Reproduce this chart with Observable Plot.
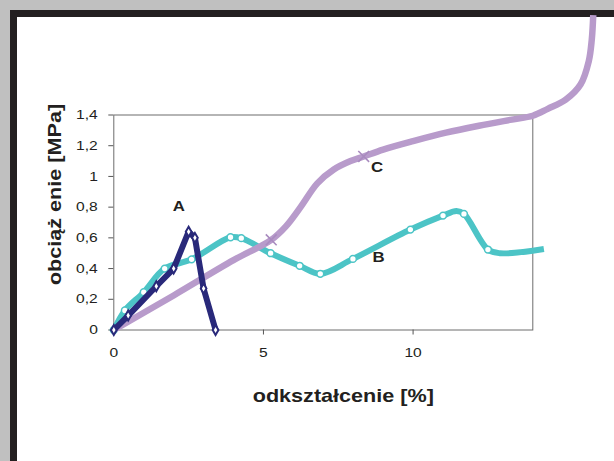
<!DOCTYPE html>
<html>
<head>
<meta charset="utf-8">
<script src="https://cdn.jsdelivr.net/npm/d3@7"></script>
<script src="https://cdn.jsdelivr.net/npm/@observablehq/plot@0.6"></script>
<style>
  html, body { margin: 0; padding: 0; }
  body { width: 614px; height: 461px; background: #c0c0c0; position: relative; overflow: hidden; font-family: "Liberation Sans", Arial, sans-serif; }
  #frame { position: absolute; left: 10px; top: 10px; width: 700px; height: 600px; border-left: 7.5px solid #231f20; border-top: 7.5px solid #231f20; background: #ffffff; }
  #chart { position: absolute; left: 0; top: 0; }
</style>
</head>
<body>
<div id="frame"></div>
<div id="chart"></div>
<script>
// Series A (navy)
const aX = [0, 0.48, 1.42, 2.0, 2.5, 2.71, 3.0, 3.4];
const aY = [0, 0.094, 0.285, 0.40, 0.64, 0.60, 0.27, 0];

// Series B (teal)
const bX = [0, 0.37, 1.0, 1.70, 2.6, 3.9, 4.26, 5.24, 6.21, 6.9, 7.99, 9.91, 11.0, 11.45, 11.7, 12.5, 12.9, 14.37];
const bY = [0, 0.127, 0.246, 0.40, 0.46, 0.604, 0.598, 0.50, 0.418, 0.366, 0.463, 0.654, 0.745, 0.775, 0.756, 0.524, 0.50, 0.528];
const bHasMarker = [1, 1, 1, 1, 1, 1, 1, 1, 1, 1, 1, 1, 1, 0, 1, 1, 0, 0];

// Series C (lavender)
const cX = [0, 2, 4, 5.26, 5.75, 6.24, 6.8, 7.35, 7.91, 8.35, 9.0, 10.0, 11.1, 12.2, 13.3, 14.0, 14.5, 15.1, 15.6, 15.87, 15.97, 16.02];
const cY = [0, 0.225, 0.455, 0.587, 0.675, 0.80, 0.955, 1.045, 1.10, 1.13, 1.175, 1.23, 1.285, 1.33, 1.37, 1.395, 1.44, 1.50, 1.60, 1.75, 1.89, 2.05];
const cHasMarker = [0, 0, 0, 1, 0, 0, 0, 0, 0, 1, 0, 0, 0, 0, 0, 0, 0, 0, 0, 0, 0, 0];

// Series labels
const seriesNames = ["A", "B", "C"];
const seriesLabelX = [2.17, 8.85, 8.8];
const seriesLabelY = [0.804, 0.473, 1.056];

// Axes
const xTicks = [0, 5, 10];
const xTickLabels = ["0", "5", "10"];
const yTicks = [0, 0.2, 0.4, 0.6, 0.8, 1.0, 1.2, 1.4];
const yTickLabels = ["0", "0,2", "0,4", "0,6", "0,8", "1", "1,2", "1,4"];
const xTitle = "odkształcenie [%]";
const yTitle = "obciąż enie [MPa]";

const toRows = (xs, ys, flags) => xs.map((x, i) => ({x, y: ys[i], m: flags ? flags[i] : 1}));
const A = toRows(aX, aY);
const B = toRows(bX, bY, bHasMarker);
const C = toRows(cX, cY, cHasMarker);
const labels = seriesNames.map((n, i) => ({n, x: seriesLabelX[i], y: seriesLabelY[i]}));

const navy = "#29297a", teal = "#4cc4c6", lav = "#b89bcb", ink = "#231f20";

const chart = Plot.plot({
  width: 614,
  height: 461,
  marginLeft: 113.3,
  marginRight: 81.7,
  marginTop: 114.5,
  marginBottom: 131.5,
  style: {background: "transparent", fontFamily: "'Liberation Sans', Arial, sans-serif", color: ink, overflow: "visible"},
  x: {domain: [0, 14]},
  y: {domain: [0, 1.4]},
  marks: [
    Plot.frame({stroke: "#6d6d6d", strokeWidth: 1}),
    Plot.axisY({ticks: yTicks, tickFormat: (d) => yTickLabels[yTicks.indexOf(d)], tickSize: 5, tickPadding: 11, fontSize: 13, label: null, stroke: "#555"}),
    Plot.axisX({ticks: xTicks, tickFormat: (d) => xTickLabels[xTicks.indexOf(d)], tickSize: 5, tickPadding: 13, fontSize: 13, label: null, stroke: "#555"}),
    Plot.line(B, {x: "x", y: "y", stroke: teal, strokeWidth: 6, curve: "catmull-rom", strokeLinejoin: "round", strokeLinecap: "butt"}),
    Plot.dot(B.filter(d => d.m), {x: "x", y: "y", r: 3.4, fill: "white", stroke: teal, strokeWidth: 1.5}),
    Plot.line(C, {x: "x", y: "y", stroke: lav, strokeWidth: 6.5, curve: "catmull-rom", strokeLinejoin: "round", strokeLinecap: "butt"}),
    Plot.dot(C.filter(d => d.m), {x: "x", y: "y", r: 5, symbol: "times", stroke: "#a98bbf", strokeWidth: 1.6}),
    Plot.line(A, {x: "x", y: "y", stroke: navy, strokeWidth: 6, strokeLinejoin: "round", strokeLinecap: "round"}),
    Plot.dot(A, {x: "x", y: "y", r: 3, symbol: "diamond", fill: "white", stroke: navy, strokeWidth: 2}),
    Plot.text(labels, {x: "x", y: "y", text: "n", fontSize: 14, fontWeight: "bold", fill: ink}),
    Plot.text([xTitle], {frameAnchor: "bottom", lineAnchor: "middle", textAnchor: "middle", dx: 20, dy: 66, fontSize: 18, fontWeight: "bold", fill: ink}),
    Plot.text([yTitle], {frameAnchor: "left", lineAnchor: "middle", textAnchor: "middle", rotate: -90, dx: -59, dy: -28, fontSize: 18, fontWeight: "bold", fill: ink})
  ]
});
// Widen glyphs along the text direction to match the reference's wide lettering
chart.querySelectorAll("text").forEach(t => {
  let pre = "";
  const xa = t.getAttribute("x");
  if (xa !== null && /^-?[\d.]+$/.test(xa.trim())) {
    pre = ` translate(${+xa},0)`;
    t.removeAttribute("x");
  }
  const tr = t.getAttribute("transform") || "";
  t.setAttribute("transform", `${tr}${pre} scale(1.2,1)`);
});
document.getElementById("chart").appendChild(chart);
</script>
</body>
</html>
